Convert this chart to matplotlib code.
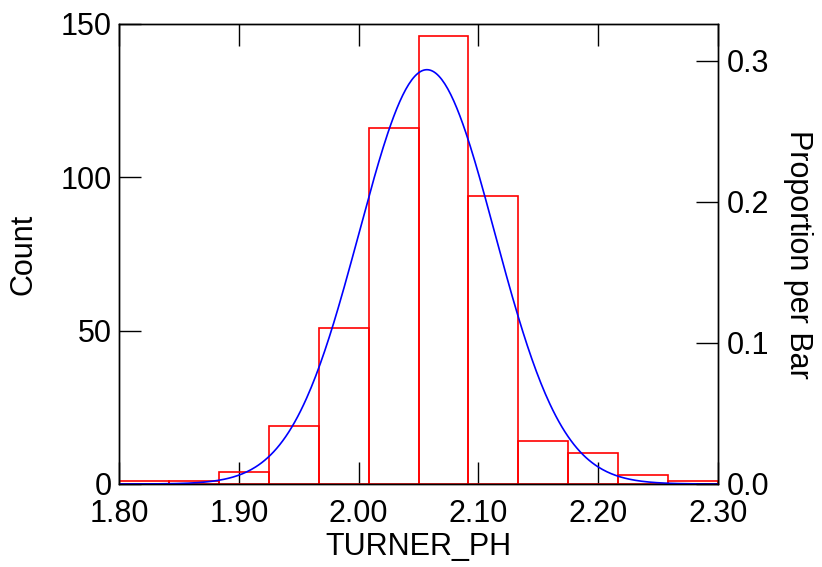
import numpy as np
import matplotlib.pyplot as plt

plt.rcParams['font.family'] = ['Liberation Sans', 'DejaVu Sans']

# histogram of TURNER_PH, 12 bins from 1.80 to 2.30
bin_edges = np.linspace(1.80, 2.30, 13)
counts = [1, 1, 4, 19, 51, 116, 146, 94, 14, 10, 3, 1]

# fitted normal curve parameters
fit_mean = 2.057
fit_sd = 0.0566

n_total = sum(counts)
width = bin_edges[1] - bin_edges[0]

fig = plt.figure(figsize=(8.22, 5.67), dpi=100)
ax = fig.add_axes([0.1448, 0.1464, 0.7287, 0.8113])

ax.bar(bin_edges[:-1], counts, width=width, align='edge', fill=False,
       edgecolor='red', linewidth=1.2, zorder=2)

xs = np.linspace(1.80, 2.30, 400)
curve = n_total * width / (fit_sd * np.sqrt(2 * np.pi)) * np.exp(-0.5 * ((xs - fit_mean) / fit_sd) ** 2)
ax.plot(xs, curve, color='blue', linewidth=1.2, zorder=3)

ax.set_xlim(1.80, 2.30)
ax.set_ylim(0, 150)
ax.set_xticks([1.80, 1.90, 2.00, 2.10, 2.20, 2.30])
ax.set_xticklabels(['1.80', '1.90', '2.00', '2.10', '2.20', '2.30'])
ax.set_yticks([0, 50, 100, 150])
ax.tick_params(axis='x', direction='in', length=16, width=1, top=True, labelsize=22, pad=11)
ax.tick_params(axis='y', direction='in', length=16, width=1, labelsize=22, pad=5)
ax.set_xlabel('TURNER_PH', fontsize=22, labelpad=2)
ax.set_ylabel('Count', fontsize=22, labelpad=16)

ax2 = ax.twinx()
ax2.set_ylim(0, 150 / n_total)
ax2.set_yticks([0.0, 0.1, 0.2, 0.3])
ax2.set_yticklabels(['0.0', '0.1', '0.2', '0.3'])
ax2.tick_params(axis='y', direction='in', length=16, width=1, labelsize=22, pad=6)
ax2.set_ylabel('Proportion per Bar', fontsize=22, rotation=-90, labelpad=32)

for a in (ax, ax2):
    for s in a.spines.values():
        s.set_linewidth(1)

fig.savefig('out.png', dpi=100)
